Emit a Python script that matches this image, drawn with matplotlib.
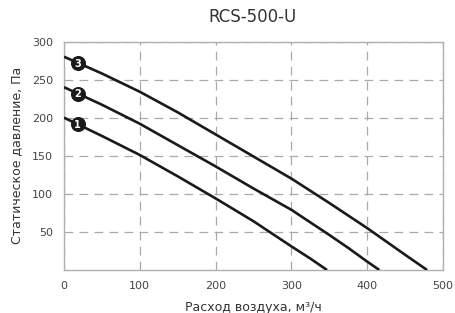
import numpy as np
import matplotlib
matplotlib.use('Agg')
import matplotlib.pyplot as plt

# Fan curves (x: m3/h, y: Pa)
x1 = [0, 50, 100, 150, 200, 250, 300, 325, 347]
y1 = [200, 176, 151, 123, 94, 64, 31, 15, 0]
x2 = [0, 50, 100, 150, 200, 250, 300, 350, 375, 400, 416]
y2 = [240, 217, 192, 164, 136, 107, 79, 46, 29, 11, 0]
x3 = [0, 50, 100, 150, 200, 250, 300, 350, 400, 450, 479]
y3 = [280, 258, 234, 207, 178, 149, 120, 88, 55, 20, 0]
curves = [(x1, y1, '1'), (x2, y2, '2'), (x3, y3, '3')]
label_x = 18

xticks = [0, 100, 200, 300, 400, 500]
yticks = [50, 100, 150, 200, 250, 300]

fig = plt.figure(figsize=(4.55, 3.13), dpi=100)
ax = fig.add_axes([64 / 455, 1 - 270 / 313, (443 - 64) / 455, (270 - 41.5) / 313])

for xs, ys, lab in curves:
    ax.plot(xs, ys, color='#1a1a1a', lw=1.9, solid_capstyle='butt',
            solid_joinstyle='round', zorder=3)
    yl = np.interp(label_x, xs, ys)
    ax.plot([label_x], [yl], 'o', ms=9.8, color='#1a1a1a', zorder=4)
    ax.text(label_x, yl - 1, lab, color='white', fontsize=7, fontweight='bold',
            ha='center', va='center', zorder=5)

ax.set_xlim(0, 500)
ax.set_ylim(0, 300)
ax.set_xticks(xticks)
ax.set_yticks(yticks)
ax.tick_params(length=0, pad=8, labelsize=8, colors='#444444')
ax.grid(True, color='#aaaaaa', lw=0.9, linestyle=(0, (7, 5)))
ax.set_axisbelow(True)
for s in ax.spines.values():
    s.set_color('#b0b0b0')
    s.set_linewidth(1.0)

ax.set_xlabel('Расход воздуха, м³/ч', fontsize=9, color='#333333', labelpad=7)
ax.set_ylabel('Статическое давление, Па', fontsize=9, color='#333333', labelpad=6)
fig.text(253 / 455, 1 - 17 / 313, 'RCS-500-U', fontsize=12, color='#333333',
         ha='center', va='center')

fig.savefig('out.png', dpi=100)
